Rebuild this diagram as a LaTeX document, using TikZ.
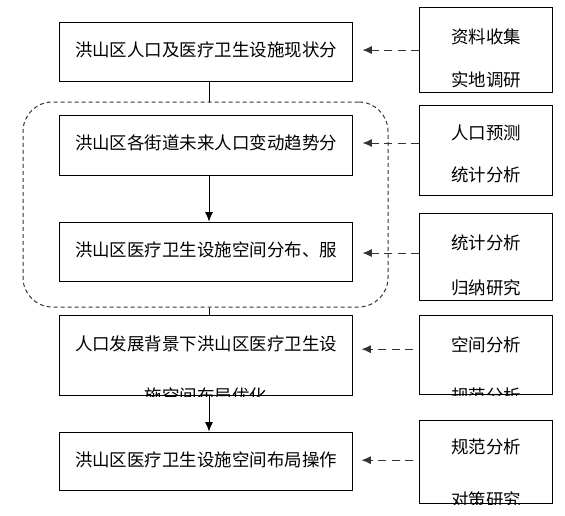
\documentclass[tikz,border=0pt]{standalone}
\usepackage{fontspec}
\setmainfont{Noto Sans CJK SC}
\usepackage{tikz}
\usetikzlibrary{arrows.meta}
\tikzset{
  mainbox/.style={draw, line width=0.75pt, minimum width=219.75pt, inner sep=0pt},
  sidebox/.style={draw, line width=0.75pt, minimum width=99.75pt, inner sep=0pt},
  cjk/.style={font=\fontsize{13.1pt}{16pt}\selectfont, inner sep=0pt},
  tip/.style={-{Latex[length=7pt, width=6pt]}},
  dasharr/.style={tip, black!80, line width=0.75pt, dash pattern=on 6pt off 4pt},
}

\begin{document}
\begin{tikzpicture}[x=0.75pt, y=-0.75pt]
    \useasboundingbox (0, 0) rectangle (565, 515);
    \coordinate (spine) at (209, 0);

    \node [mainbox, minimum height=44.25pt] (b1) at (205.5, 51.5) {};
    \node [mainbox, minimum height=45pt] (b2) at (205.5, 145) {};
    \node [mainbox, minimum height=44.25pt] (b3) at (205.5, 251.5) {};
    \node [mainbox, minimum height=60pt] (b4) at (205.5, 355) {};
    \node [mainbox, minimum height=43.5pt] (b5) at (205.5, 461) {};
    \node [draw, black!80, line width=0.75pt, dash pattern=on 3pt off 2.25pt, rounded corners=22pt,
      minimum width=273.75pt, minimum height=153.75pt] (grp) at (205.5, 204.5) {};

    \node [cjk] at (206, 50) {洪山区人口及医疗卫生设施现状分};
    \node [cjk] at (206, 143) {洪山区各街道未来人口变动趋势分};
    \node [cjk] at (206, 250) {洪山区医疗卫生设施空间分布、服};
    \node [cjk] at (206, 460) {洪山区医疗卫生设施空间布局操作};
    \begin{scope}
      \clip ([shift={(0.4pt,-0.4pt)}]b4.south west) rectangle ([shift={(-0.4pt,0.4pt)}]b4.north east);
      \node [cjk] at (206, 344) {人口发展背景下洪山区医疗卫生设};
      \node [cjk] at (206, 396) {施空间布局优化};
    \end{scope}

    \draw [line width=0.75pt] (b1.south -| spine) -- (grp.north -| spine);
    \draw [tip, line width=0.75pt] (b2.south -| spine) -- (b3.north -| spine);
    \draw [line width=0.75pt] (grp.south -| spine) -- (b4.north -| spine);
    \draw [tip, line width=0.75pt] (b4.south -| spine) -- (b5.north -| spine);

    \node [sidebox, minimum height=63.75pt] (r1) at (486, 49.5) {};
    \node [sidebox, minimum height=67.5pt] (r2) at (486, 150) {};
    \node [sidebox, minimum height=65.25pt] (r3) at (486, 256.5) {};
    \node [sidebox, minimum height=59.25pt] (r4) at (486, 354.5) {};
    \node [sidebox, minimum height=62.25pt] (r5) at (486, 461.5) {};

    \node [cjk] at (486, 37) {资料收集};
    \node [cjk] at (486, 80) {实地调研};
    \node [cjk] at (486, 133) {人口预测};
    \node [cjk] at (486, 175) {统计分析};
    \node [cjk] at (486, 243) {统计分析};
    \node [cjk] at (486, 288) {归纳研究};
    \begin{scope}
      \clip ([shift={(0.4pt,-0.4pt)}]r4.south west) rectangle ([shift={(-0.4pt,0.4pt)}]r4.north east);
      \node [cjk] at (486, 345) {空间分析};
      \node [cjk] at (486, 396) {规范分析};
    \end{scope}
    \begin{scope}
      \clip ([shift={(0.4pt,-0.4pt)}]r5.south west) rectangle ([shift={(-0.4pt,0.4pt)}]r5.north east);
      \node [cjk] at (486, 447) {规范分析};
      \node [cjk] at (486, 500) {对策研究};
    \end{scope}

    \draw [dasharr, shorten >=7.5pt] ([yshift=-0.4pt]r1.west) -- ([yshift=-0.4pt]r1.west -| b1.east);
    \draw [dasharr, shorten >=7.5pt] ([yshift=5.25pt]r2.west) -- ([yshift=5.25pt]r2.west -| b2.east);
    \draw [dasharr, shorten >=7.5pt] ([yshift=2.6pt]r3.west) -- ([yshift=2.6pt]r3.west -| b3.east);
    \draw [dasharr, shorten >=6.75pt, shorten <=4.5pt] ([yshift=4pt]r4.west) -- ([yshift=4pt]r4.west -| b4.east);
    \draw [dasharr, shorten >=6.75pt, shorten <=4.5pt] ([yshift=1pt]r5.west) -- ([yshift=1pt]r5.west -| b5.east);
  \end{tikzpicture}
\end{document}
